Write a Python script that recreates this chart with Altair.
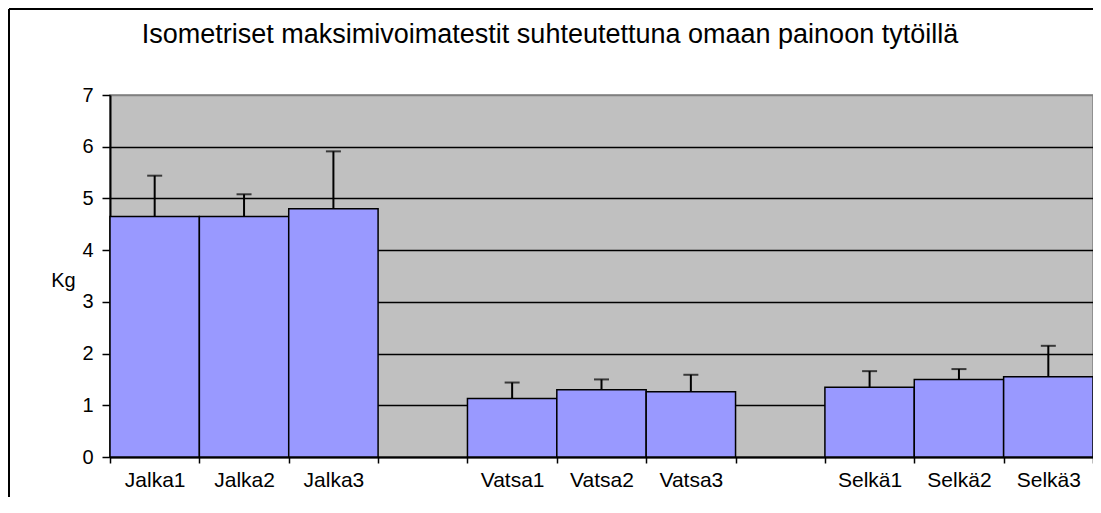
import altair as alt
import pandas as pd

categories = ["Jalka1", "Jalka2", "Jalka3", " ", "Vatsa1", "Vatsa2", "Vatsa3", "  ", "Selkä1", "Selkä2", "Selkä3"]
bar_names = ["Jalka1", "Jalka2", "Jalka3", "Vatsa1", "Vatsa2", "Vatsa3", "Selkä1", "Selkä2", "Selkä3"]
means = [4.65, 4.65, 4.80, 1.13, 1.30, 1.26, 1.35, 1.50, 1.55]
errors = [0.79, 0.43, 1.11, 0.31, 0.20, 0.33, 0.31, 0.20, 0.60]
title_text = "Isometriset maksimivoimatestit suhteutettuna omaan painoon tytöillä"

df = pd.DataFrame({"cat": bar_names, "mean": means, "err": errors})
df["top"] = df["mean"] + df["err"]

FONT = "Liberation Sans"
W, H = 983, 362
PL, PT = 102, 87

xscale = alt.Scale(domain=categories, paddingInner=0, paddingOuter=0)

x = alt.X("cat:N", sort=categories, scale=xscale,
          axis=alt.Axis(title=None, labelAngle=0, tickBand="extent", labelFontSize=21,
                        labelFont=FONT, labelColor="black", labelPadding=6,
                        tickSize=6, tickColor="black", tickWidth=1.5,
                        domainColor="black", domainWidth=2, grid=False))

y_axis = alt.Axis(title="Kg", titleAngle=0, titleFont=FONT, titleFontSize=20,
                  titleFontWeight="normal", titleColor="black",
                  titleX=-47, titleY=185, titleAlign="center", titleBaseline="middle",
                  values=[0, 1, 2, 3, 4, 5, 6, 7], format="d", labelFontSize=20, labelFont=FONT,
                  labelColor="black", labelPadding=9, tickSize=8, tickColor="black",
                  tickWidth=1.5, domainColor="black", domainWidth=2,
                  grid=True,
                  gridColor=alt.condition("datum.value == 7", alt.value("#808080"), alt.value("black")),
                  gridWidth=1.5)

base = alt.Chart(df)

bars = base.mark_bar(color="#9999FF", stroke="black", strokeWidth=1.5).encode(
    x=x,
    y=alt.Y("mean:Q", scale=alt.Scale(domain=[0, 7], nice=False), axis=y_axis),
)

err_rule = base.mark_rule(color="black", strokeWidth=2).encode(
    x=alt.X("cat:N", sort=categories, scale=xscale),
    y="mean:Q",
    y2="top:Q",
)

err_cap = base.mark_tick(color="black", orient="horizontal", size=15, thickness=2).encode(
    x=alt.X("cat:N", sort=categories, scale=xscale),
    y="top:Q",
)

one = alt.Data(values=[{"t": title_text}])
title_mark = alt.Chart(one).mark_text(
    font=FONT, fontSize=27, color="black", align="center", baseline="middle"
).encode(text="t:N", x=alt.value(440), y=alt.value(-60))

frame_top = alt.Chart(one).mark_rule(color="black", strokeWidth=2).encode(
    x=alt.value(-PL + 1), x2=alt.value(W), y=alt.value(-PT + 1)
)
frame_left = alt.Chart(one).mark_rule(color="black", strokeWidth=2).encode(
    x=alt.value(-PL + 1), y=alt.value(-PT + 1), y2=alt.value(H + 60)
)

chart = alt.layer(bars, err_rule, err_cap, title_mark, frame_top, frame_left).properties(
    width=W, height=H,
    autosize="none",
    padding={"left": PL, "top": PT, "right": 0, "bottom": 40},
    background="white",
).configure_view(
    fill="#C0C0C0", stroke="#808080", strokeWidth=1.5
)

chart.save("out.html", embed_options={"renderer": "svg", "actions": False})
